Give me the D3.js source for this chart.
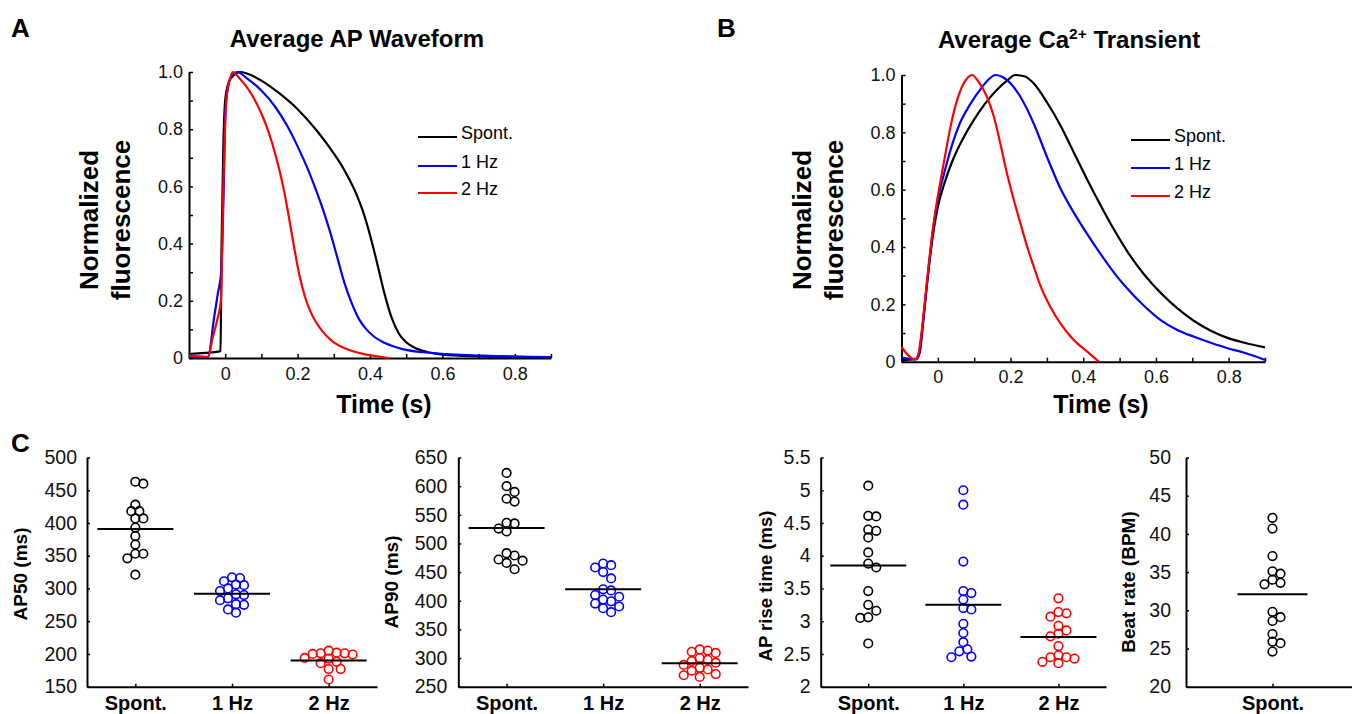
<!DOCTYPE html>
<html>
<head>
<meta charset="utf-8">
<title>AP and Ca transients</title>
<style>
body { margin: 0; background: #fff; }
svg { display: block; font-family: "Liberation Sans", Arial, sans-serif; }
</style>
<script src="https://d3js.org/d3.v7.min.js"></script>
</head>
<body>
<svg id="fig" width="1352" height="714"></svg>
<script>
// groups shared by every panel
const groups = ["Spont.", "1 Hz", "2 Hz"];
const groupColors = ["#000000", "#0000ff", "#ff0000"];

// A: average AP waveform, [time (s), normalized fluorescence]
const apSpont = [[-0.1, 0.014], [-0.02, 0.022], [-0.013, 0.025], [-0.01, 0.4], [-0.005, 0.75], [0.0, 0.9],
  [0.01, 0.965], [0.025, 0.99], [0.04, 1.0], [0.06, 0.995], [0.1, 0.97], [0.15, 0.925], [0.2, 0.87],
  [0.25, 0.8], [0.3, 0.715], [0.33, 0.655], [0.36, 0.58], [0.38, 0.515], [0.4, 0.43], [0.42, 0.33],
  [0.44, 0.225], [0.46, 0.14], [0.48, 0.085], [0.5, 0.055], [0.53, 0.032], [0.56, 0.02], [0.6, 0.012],
  [0.7, 0.006], [0.8, 0.004], [0.9, 0.002]];
const ap1Hz = [[-0.1, 0.003], [-0.048, 0.003], [-0.03, 0.147], [-0.02, 0.228], [-0.011, 0.3], [-0.004, 0.6],
  [0.0, 0.85], [0.008, 0.95], [0.02, 0.99], [0.033, 1.0], [0.06, 0.978], [0.1, 0.935], [0.14, 0.875],
  [0.172, 0.81], [0.2, 0.74], [0.23, 0.655], [0.25, 0.59], [0.27, 0.52], [0.29, 0.44], [0.31, 0.35],
  [0.33, 0.26], [0.35, 0.19], [0.37, 0.135], [0.39, 0.1], [0.41, 0.076], [0.44, 0.053], [0.49, 0.031],
  [0.576, 0.017], [0.714, 0.008], [0.9, 0.003]];
const ap2Hz = [[-0.1, 0.008], [-0.048, 0.004], [-0.034, 0.074], [-0.02, 0.144], [-0.012, 0.2], [-0.005, 0.6],
  [0.003, 0.9], [0.012, 0.97], [0.021, 1.0], [0.04, 0.977], [0.072, 0.924], [0.1, 0.855], [0.12, 0.79],
  [0.14, 0.705], [0.16, 0.6], [0.175, 0.5], [0.19, 0.39], [0.205, 0.29], [0.22, 0.215], [0.24, 0.15],
  [0.26, 0.108], [0.28, 0.077], [0.3, 0.055], [0.33, 0.034], [0.36, 0.021], [0.39, 0.012], [0.42, 0.006],
  [0.452, 0.0]];

// B: average Ca2+ transient
const caSpont = [[-0.1, 0.006], [-0.06, 0.01], [-0.05, 0.04], [-0.04, 0.15], [-0.03, 0.27], [-0.02, 0.38],
  [-0.01, 0.47], [0.0, 0.54], [0.02, 0.63], [0.04, 0.7], [0.07, 0.78], [0.1, 0.845], [0.13, 0.9],
  [0.16, 0.945], [0.19, 0.98], [0.213, 1.0], [0.24, 0.995], [0.264, 0.97], [0.3, 0.905], [0.337, 0.825],
  [0.374, 0.73], [0.411, 0.635], [0.448, 0.545], [0.485, 0.46], [0.521, 0.385], [0.567, 0.305],
  [0.613, 0.24], [0.66, 0.185], [0.705, 0.142], [0.751, 0.108], [0.797, 0.083], [0.843, 0.066],
  [0.9, 0.05]];
const ca1Hz = [[-0.1, 0.014], [-0.06, 0.008], [-0.05, 0.03], [-0.04, 0.14], [-0.03, 0.27], [-0.02, 0.39],
  [-0.01, 0.49], [0.0, 0.565], [0.02, 0.67], [0.04, 0.76], [0.06, 0.83], [0.09, 0.9], [0.12, 0.955],
  [0.14, 0.985], [0.158, 1.0], [0.175, 0.995], [0.19, 0.983], [0.227, 0.924], [0.264, 0.83], [0.3, 0.715],
  [0.337, 0.605], [0.374, 0.52], [0.411, 0.445], [0.448, 0.375], [0.485, 0.31], [0.521, 0.255],
  [0.567, 0.195], [0.613, 0.145], [0.66, 0.11], [0.705, 0.087], [0.751, 0.066], [0.797, 0.047],
  [0.843, 0.031], [0.9, 0.006]];
const ca2Hz = [[-0.1, 0.052], [-0.063, 0.008], [-0.055, 0.02], [-0.045, 0.1], [-0.035, 0.22], [-0.025, 0.34],
  [-0.015, 0.45], [-0.005, 0.54], [0.006, 0.62], [0.02, 0.72], [0.035, 0.82], [0.05, 0.9], [0.065, 0.955],
  [0.08, 0.988], [0.094, 1.0], [0.11, 0.98], [0.135, 0.924], [0.154, 0.855], [0.172, 0.76], [0.19, 0.657],
  [0.209, 0.564], [0.227, 0.483], [0.246, 0.4], [0.264, 0.331], [0.282, 0.265], [0.31, 0.19], [0.337, 0.134],
  [0.374, 0.076], [0.411, 0.035], [0.443, 0.0]];

// C: per-cell values and group means
const ap50Spont = [463, 460, 428, 418, 418, 407, 407, 393, 380, 367, 353, 353, 346, 321];
const ap50Hz1 = [317, 316, 311, 306, 305, 300, 296, 291, 290, 285, 282, 276, 275, 268, 263];
const ap50Hz2 = [205, 202, 201, 201, 200, 199, 194, 193, 188, 186, 177, 177, 161];
const ap50Means = [391, 292, 190];

const ap90Spont = [623, 600, 590, 578, 573, 536, 535, 526, 521, 483, 479, 472, 470, 466, 455];
const ap90Hz1 = [465, 462, 458, 450, 439, 420, 418, 410, 407, 402, 399, 395, 390, 387, 380];
const ap90Hz2 = [315, 313, 311, 309, 300, 297, 295, 292, 288, 283, 280, 278, 272, 270, 267];
const ap90Means = [527, 420, 291];

const riseSpont = [5.07, 4.61, 4.60, 4.40, 4.38, 4.28, 4.05, 3.88, 3.82, 3.46, 3.25, 3.16, 3.06, 3.05, 2.66];
const rise1Hz = [5.0, 4.78, 3.91, 3.46, 3.43, 3.33, 3.20, 3.18, 2.96, 2.82, 2.68, 2.57, 2.54, 2.46, 2.45];
const rise2Hz = [3.35, 3.14, 3.12, 3.07, 2.93, 2.86, 2.81, 2.77, 2.62, 2.48, 2.45, 2.45, 2.43, 2.38, 2.36];
const riseMeans = [3.85, 3.25, 2.76];

const beatSpont = [42.1, 40.7, 37.1, 35.1, 34.8, 34.0, 33.6, 33.4, 29.8, 29.1, 28.6, 26.9, 25.9, 25.7, 24.6];
const beatMeans = [32.1];

const ap50Ticks = [150, 200, 250, 300, 350, 400, 450, 500];
const ap90Ticks = [250, 300, 350, 400, 450, 500, 550, 600, 650];
const riseTicks = [2, 2.5, 3, 3.5, 4, 4.5, 5, 5.5];
const beatTicks = [20, 25, 30, 35, 40, 45, 50];

const svg = d3.select("#fig");

function styleAxis(sel, size) {
    sel.attr("font-family", null).attr("font-size", size);
    sel.select(".domain").attr("stroke", "#000").attr("stroke-width", 2);
    sel.selectAll(".tick line").attr("stroke", "#000").attr("stroke-width", 1.5);
    sel.selectAll(".tick text").attr("fill", "#111");
}

function curvePanel(p) {
    const x = d3.scaleLinear().domain([-0.1, 0.9]).range([p.left, p.right]);
    const y = d3.scaleLinear().domain([0, 1]).range([p.bottom, p.top]);
    const g = svg.append("g");

    const xTicks = d3.range(-1, 10).map(i => i / 10);
    const yTicks = d3.range(0, 11).map(i => i / 10);

    g.append("g")
        .attr("transform", `translate(0,${p.bottom})`)
        .call(d3.axisBottom(x).tickValues(xTicks).tickSize(-4).tickSizeOuter(0).tickPadding(9)
            .tickFormat(d => (d >= 0 && Math.round(d * 10) % 2 === 0) ? (d === 0 ? "0" : d3.format(".1f")(d)) : ""))
        .call(styleAxis, 18);

    g.append("g")
        .attr("transform", `translate(${p.left},0)`)
        .call(d3.axisLeft(y).tickValues(yTicks).tickSize(-4).tickSizeOuter(0).tickPadding(6)
            .tickFormat(d => Math.round(d * 10) % 2 === 0 ? (d === 0 ? "0" : d3.format(".1f")(d)) : ""))
        .call(styleAxis, 18);

    const line = d3.line().x(d => x(d[0])).y(d => y(d[1])).curve(d3.curveMonotoneX);
    g.selectAll("path.trace")
        .data(p.series)
        .join("path")
        .attr("class", "trace")
        .attr("d", d => line(d))
        .attr("fill", "none")
        .attr("stroke", (d, i) => groupColors[i])
        .attr("stroke-width", 2.2)
        .attr("stroke-linejoin", "round");

    // legend
    const leg = g.selectAll("g.leg")
        .data(groups)
        .join("g")
        .attr("class", "leg")
        .attr("transform", (d, i) => `translate(${p.legX},${p.legY[i]})`);
    leg.append("line")
        .attr("x1", 0).attr("x2", 39)
        .attr("stroke", (d, i) => groupColors[i])
        .attr("stroke-width", 2.2);
    leg.append("text")
        .attr("x", 43).attr("y", 2)
        .attr("font-size", 18)
        .text(d => d);

    // y title (two lines)
    ["Normalized", "fluorescence"].forEach((t, i) => {
        g.append("text")
            .attr("transform", `translate(${p.yTitleX[i]},${p.yTitleY}) rotate(-90)`)
            .attr("text-anchor", "middle")
            .attr("font-weight", "bold")
            .attr("font-size", 26)
            .text(t);
    });

    g.append("text")
        .attr("x", p.xTitleX).attr("y", 413)
        .attr("text-anchor", "middle")
        .attr("font-weight", "bold")
        .attr("font-size", 25)
        .text("Time (s)");
}

function dodge(values, y, step, minD) {
    const placed = [];
    return values.map(v => {
        const py = y(v);
        let off = 0;
        for (let k = 0; k < 30; k++) {
            const c = k === 0 ? 0 : (k % 2 ? 1 : -1) * Math.ceil(k / 2) * step;
            if (placed.every(q => Math.hypot(q.x - c, q.y - py) >= minD)) { off = c; break; }
        }
        placed.push({x: off, y: py});
        return off;
    });
}

function dotPanel(p) {
    const cats = groups.slice(0, p.data.length);
    const x = d3.scaleLinear().domain([0.5, cats.length + 0.5]).range([p.left, p.right]);
    const y = d3.scaleLinear().domain([p.ticks[0], p.ticks[p.ticks.length - 1]]).range([686.7, 457.5]);
    const g = svg.append("g");

    g.append("g")
        .attr("transform", "translate(0,686.7)")
        .call(d3.axisBottom(x).tickValues(d3.range(1, cats.length + 1)).tickSize(-3).tickSizeOuter(0).tickPadding(9)
            .tickFormat(i => cats[i - 1]))
        .call(styleAxis, 20)
        .selectAll(".tick text").attr("font-weight", "bold").attr("fill", "#000");

    g.append("g")
        .attr("transform", `translate(${p.left},0)`)
        .call(d3.axisLeft(y).tickValues(p.ticks).tickSize(-3).tickSizeOuter(0).tickPadding(p.pad)
            .tickFormat(d => String(d)))
        .call(styleAxis, 19.5);

    p.data.forEach((vals, gi) => {
        const offs = dodge(vals, y, 4, 7.5);
        g.append("g")
            .selectAll("circle")
            .data(vals)
            .join("circle")
            .attr("cx", (d, i) => x(gi + 1) + offs[i])
            .attr("cy", d => y(d))
            .attr("r", 4.3)
            .attr("fill", "none")
            .attr("stroke", groupColors[gi])
            .attr("stroke-width", 1.6);
    });

    g.selectAll("line.mean")
        .data(p.means)
        .join("line")
        .attr("class", "mean")
        .attr("x1", (d, i) => x(i + 1) - p.half)
        .attr("x2", (d, i) => x(i + 1) + p.half)
        .attr("y1", d => y(d))
        .attr("y2", d => y(d))
        .attr("stroke", "#000")
        .attr("stroke-width", 2);

    g.append("text")
        .attr("transform", `translate(${p.titleX},${p.titleY}) rotate(-90)`)
        .attr("text-anchor", "middle")
        .attr("font-weight", "bold")
        .attr("font-size", p.titleSize)
        .text(p.title);
}

curvePanel({
    left: 189, right: 551, top: 72, bottom: 358,
    series: [apSpont, ap1Hz, ap2Hz],
    legX: 418, legY: [137, 166, 193],
    yTitleX: [98, 130], yTitleY: 220, xTitleX: 384
});

curvePanel({
    left: 901.5, right: 1265, top: 75, bottom: 361.7,
    series: [caSpont, ca1Hz, ca2Hz],
    legX: 1131, legY: [140, 168, 196],
    yTitleX: [811, 843], yTitleY: 220, xTitleX: 1101
});

dotPanel({left: 87, right: 377, ticks: ap50Ticks, pad: 10, data: [ap50Spont, ap50Hz1, ap50Hz2],
    means: ap50Means, half: 38, title: "AP50 (ms)", titleX: 27, titleY: 574, titleSize: 19});
dotPanel({left: 458.3, right: 748, ticks: ap90Ticks, pad: 11, data: [ap90Spont, ap90Hz1, ap90Hz2],
    means: ap90Means, half: 38, title: "AP90 (ms)", titleX: 398, titleY: 582, titleSize: 19});
dotPanel({left: 820.7, right: 1106, ticks: riseTicks, pad: 10, data: [riseSpont, rise1Hz, rise2Hz],
    means: riseMeans, half: 38, title: "AP rise time (ms)", titleX: 772, titleY: 586, titleSize: 18.5});
dotPanel({left: 1186, right: 1359, ticks: beatTicks, pad: 15, data: [beatSpont],
    means: beatMeans, half: 35, title: "Beat rate (BPM)", titleX: 1135, titleY: 582, titleSize: 19});

// panel titles and letters
svg.append("text").attr("x", 357).attr("y", 47).attr("text-anchor", "middle")
    .attr("font-weight", "bold").attr("font-size", 24).text("Average AP Waveform");

const tB = svg.append("text").attr("x", 1069).attr("y", 48).attr("text-anchor", "middle")
    .attr("font-weight", "bold").attr("font-size", 24);
tB.append("tspan").text("Average Ca");
tB.append("tspan").attr("font-size", 15.5).attr("dy", -9).text("2+");
tB.append("tspan").attr("dy", 9).text(" Transient");

[["A", 11, 37], ["B", 717, 37], ["C", 11, 452]].forEach(([t, x, y]) => {
    svg.append("text").attr("x", x).attr("y", y)
        .attr("font-weight", "bold").attr("font-size", 26).text(t);
});
</script>
</body>
</html>
